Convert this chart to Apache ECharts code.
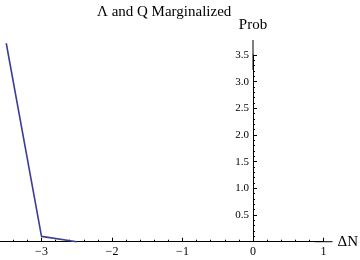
<!DOCTYPE html>
<html><head><meta charset="utf-8">
<script src="https://cdn.jsdelivr.net/npm/echarts@6/dist/echarts.min.js"></script>
<style>html,body{margin:0;padding:0;background:#fff}#c{width:360px;height:260px}</style>
</head><body><div id="c"></div>
<script>
const titleText = "Λ and Q Marginalized";
const xName = "ΔN";
const yName = "Prob";
const deltaN = [-3.5, -3.0, -2.5];
const prob = [3.72, 0.10, 0.0];

const font = "Liberation Serif";
const chart = echarts.init(document.getElementById('c'), null, {renderer: 'canvas'});
const fmtMinus = v => String(v).replace('-', '\u2212');
const yMin = 0, yMax = 3.5, yInt = 0.5;
chart.setOption({
  animation: false,
  title: {text: titleText, left: 92, top: 0,
    textStyle: {fontFamily: font, fontSize: 15, fontWeight: 'normal', color: '#000'}},
  grid: [
    {left: -29, right: 36.5, top: 55, bottom: 18.3, containLabel: false, outerBoundsMode: 'none'},
    {left: 253, right: 36.5, top: 55, bottom: 18.3, containLabel: false, outerBoundsMode: 'none'}
  ],
  xAxis: [{gridIndex: 0, type: 'value', min: -4, max: 1, interval: 1,
    name: xName, nameLocation: 'end', nameGap: 14,
    nameTextStyle: {fontFamily: font, fontSize: 15, color: '#000', align: 'left', verticalAlign: 'middle'},
    axisLine: {onZero: false, lineStyle: {color: '#000', width: 1}, symbol: ['none', 'rect'], symbolSize: [1, 18]},
    axisTick: {inside: true, length: 4, lineStyle: {color: '#000'}},
    minorTick: {show: true, splitNumber: 5, length: 2, lineStyle: {color: '#000'}},
    splitLine: {show: false},
    axisLabel: {showMinLabel: false, margin: 4, fontFamily: font, fontSize: 12, color: '#000', formatter: fmtMinus}
  }, {gridIndex: 1, type: 'value', min: 0, max: 1, show: false}],
  yAxis: [{gridIndex: 0, type: 'value', min: yMin, max: yMax, interval: yInt, show: false},
    {gridIndex: 1, type: 'value', min: yMin, max: yMax, interval: yInt, position: 'left',
    name: yName, nameLocation: 'end', nameGap: 22,
    nameTextStyle: {fontFamily: font, fontSize: 15, color: '#000'},
    axisLine: {show: true, onZero: false, lineStyle: {color: '#000', width: 1}, symbol: ['none', 'rect'], symbolSize: [1, 30]},
    axisTick: {show: true, inside: true, length: 4, lineStyle: {color: '#000'}},
    minorTick: {show: true, splitNumber: 5, length: 2, lineStyle: {color: '#000'}},
    splitLine: {show: false},
    axisLabel: {showMinLabel: false, margin: 4, fontFamily: font, fontSize: 11, color: '#000', formatter: v => v.toFixed(1)}
  }],
  series: [{type: 'line', xAxisIndex: 0, yAxisIndex: 0, clip: false, symbol: 'none',
    data: deltaN.map((x, i) => [x, prob[i]]),
    lineStyle: {color: '#3d3d99', width: 1.6}}]
});
</script></body></html>
